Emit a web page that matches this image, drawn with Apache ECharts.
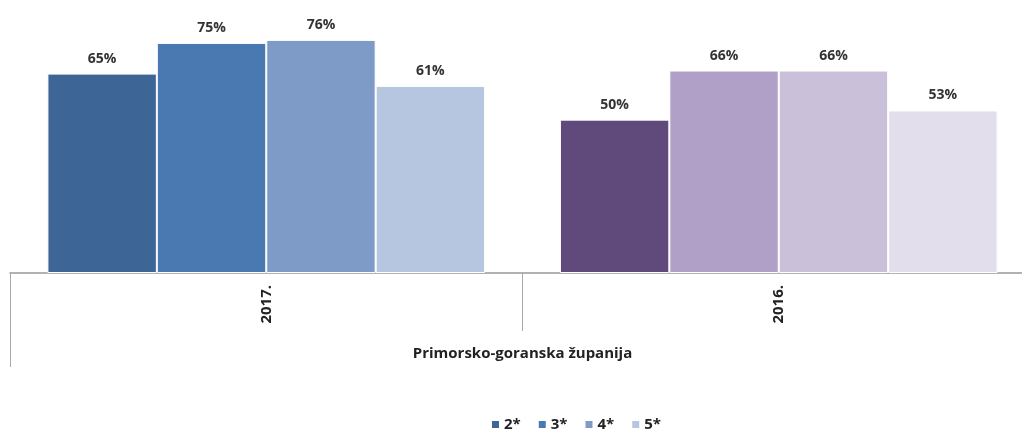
<!DOCTYPE html>
<html>
<head>
<meta charset="utf-8">
<script src="https://cdn.jsdelivr.net/npm/echarts@6/dist/echarts.min.js"></script>
<style>html,body{margin:0;padding:0;background:#fff;overflow:hidden}#c{width:1022px;height:433px}</style>
</head>
<body>
<div id="c"></div>
<script>
const categories = ['2017.', '2016.'];
const groupLabel = ['Primorsko-goranska županija'];
const seriesNames = ['2*', '3*', '4*', '5*'];
const s2 = [65, 50];
const s3 = [75, 66];
const s4 = [76, 66];
const s5 = [61, 53];
const colors2017 = ['#3D6596', '#4A78B0', '#7E9BC8', '#B6C5E0'];
const colors2016 = ['#604A7B', '#B0A0C8', '#CBC0DA', '#E3DEEB'];

const values = [s2, s3, s4, s5];
const font = '"Open Sans", "Noto Sans", sans-serif';

const chart = echarts.init(document.getElementById('c'));
chart.setOption({
  animation: false,
  textStyle: { fontFamily: font },
  legend: {
    top: 412,
    left: 485,
    icon: 'rect',
    itemWidth: 9,
    itemHeight: 9,
    itemGap: 16,
    textStyle: { fontWeight: 'bold', fontSize: 15, color: '#222', fontFamily: font, padding: [0, 0, 0, -1] },
    data: seriesNames
  },
  grid: { left: 10, right: -13, top: 0, bottom: 160, containLabel: false, outerBoundsMode: 'none' },
  xAxis: [{
    type: 'category',
    data: categories,
    position: 'bottom',
    axisLine: { lineStyle: { color: '#999', width: 1.5 } },
    axisTick: { show: true, length: 58, lineStyle: { color: '#aaa' } },
    axisLabel: { rotate: 90, margin: 12, fontWeight: 'bold', fontSize: 15, color: '#222', fontFamily: font }
  }, {
    type: 'category',
    data: groupLabel,
    position: 'bottom',
    axisLine: { show: false },
    axisTick: { show: true, length: 94, lineStyle: { color: '#aaa' } },
    axisLabel: { margin: 73, fontWeight: 'bold', fontSize: 15, color: '#222', fontFamily: font }
  }],
  yAxis: { type: 'value', min: 0, max: 89, show: false, splitLine: { show: false } },
  series: seriesNames.map((name, i) => ({
    name: name,
    type: 'bar',
    barGap: '0%',
    barCategoryGap: '14.6%',
    itemStyle: { color: colors2017[i], borderColor: '#fff', borderWidth: 1 },
    label: {
      show: true,
      position: 'top',
      distance: 8,
      formatter: '{c}%',
      fontWeight: 'bold',
      fontSize: 14,
      color: '#333',
      fontFamily: font
    },
    data: values[i].map((v, j) => ({
      value: v,
      itemStyle: { color: j === 0 ? colors2017[i] : colors2016[i] }
    }))
  }))
});
</script>
</body>
</html>
